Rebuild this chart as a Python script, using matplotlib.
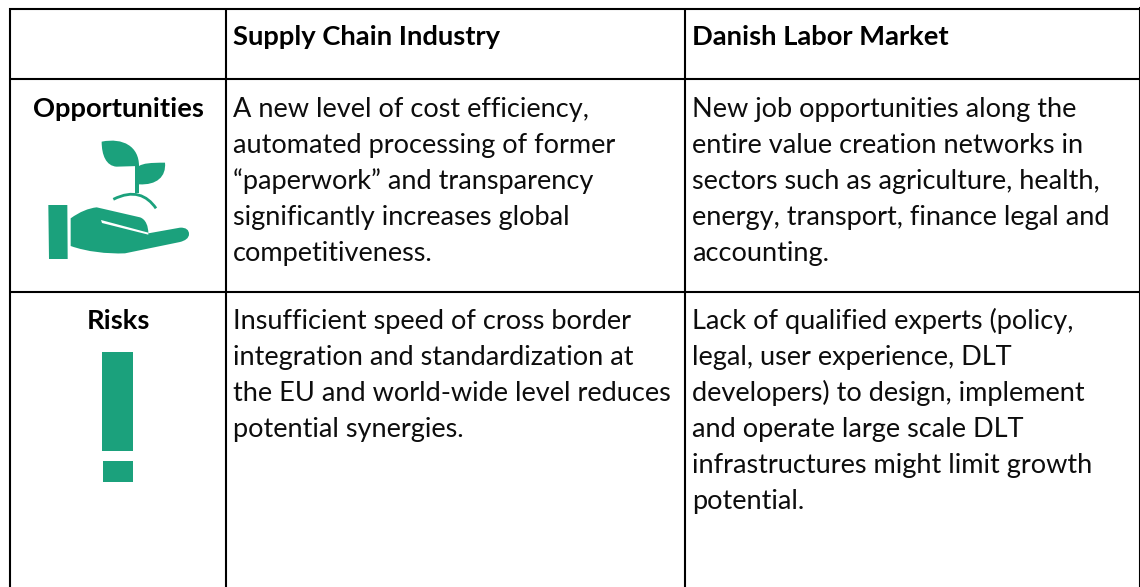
import matplotlib
matplotlib.use("Agg")
import matplotlib.pyplot as plt
from matplotlib.patches import Polygon, Rectangle, PathPatch
from matplotlib.path import Path

plt.rcParams['font.family'] = ['Lato', 'DejaVu Sans']

headers = ["Supply Chain Industry", "Danish Labor Market"]
row_labels = ["Opportunities", "Risks"]
opp_supply = ["A new level of cost efficiency,", "automated processing of former",
              "“paperwork” and transparency", "significantly increases global", "competitiveness."]
opp_labor = ["New job opportunities along the", "entire value creation networks in",
             "sectors such as agriculture, health,", "energy, transport, finance legal and", "accounting."]
risk_supply = ["Insufficient speed of cross border", "integration and standardization at",
               "the EU and world-wide level reduces", "potential synergies."]
risk_labor = ["Lack of qualified experts (policy,", "legal, user experience, DLT",
              "developers) to design, implement", "and operate large scale DLT",
              "infrastructures might limit growth", "potential."]

GREEN = "#1ba17c"
FS = 19.5
FS_B = 19.7
LH = 36.1

fig = plt.figure(figsize=(11.4, 5.87), dpi=100)
ax = fig.add_axes([0, 0, 1, 1])
ax.set_xlim(0, 1140)
ax.set_ylim(587, 0)
ax.axis("off")

# grid
for x in (9.5, 226, 685):
    ax.plot([x, x], [8, 587], color="black", lw=1.5, solid_capstyle="butt")
ax.plot([1139.5, 1139.5], [8, 587], color="black", lw=1.5)
for y in (8.5, 79, 291.5):
    ax.plot([9, 1140], [y, y], color="black", lw=1.5, solid_capstyle="butt")

# text
ax.text(233, 45, headers[0], fontsize=FS_B, fontweight="bold", va="baseline")
ax.text(692, 45, headers[1], fontsize=FS_B, fontweight="bold", va="baseline")
ax.text(118, 117, row_labels[0], fontsize=FS_B, fontweight="bold", va="baseline", ha="center")
ax.text(118, 329, row_labels[1], fontsize=FS_B, fontweight="bold", va="baseline", ha="center")

def block(x, y0, lines):
    for i, s in enumerate(lines):
        ax.text(x, y0 + i * LH, s, fontsize=FS, va="baseline", color="#0d0d0d")

block(233, 117, opp_supply)
block(692, 117, opp_labor)
block(233, 329, risk_supply)
block(692, 329, risk_labor)

# icon: zoom-crop coordinates of the hand and sprout
def z(pts):
    return [(px / 3, py / 3 + 80) for px, py in pts]

def curved(pts, codes, **kw):
    ax.add_patch(PathPatch(Path(z(pts), codes), **kw))

M, L, C = Path.MOVETO, Path.LINETO, Path.CURVE4

ax.add_patch(Polygon(z([(145, 375), (202, 375), (203, 537), (147, 537)]), fc=GREEN, ec="none"))
curved([(212, 415), (240, 395), (265, 385), (290, 382),
        (420, 412), (438, 418), (445, 440), (445, 460),
        (540, 443), (558, 442), (567, 450), (567, 462),
        (567, 475), (555, 482), (540, 486),
        (375, 520), (320, 522), (260, 515), (212, 498), (212, 415)],
       [M, C, C, C, L, C, C, C, L, C, C, C, C, C, C, L, C, C, C, L], fc=GREEN, ec="none")
ax.add_patch(Polygon(z([(303, 420), (306, 429), (445, 464), (445, 458)]), fc="white", ec="none"))
curved([(305, 185), (370, 172), (417, 200), (417, 258),
        (350, 260), (318, 258), (305, 225), (305, 185)],
       [M, C, C, C, L, C, C, C], fc=GREEN, ec="none")
curved([(417, 258), (430, 250), (450, 248), (495, 248),
        (499, 290), (470, 316), (417, 313), (417, 258)],
       [M, C, C, C, C, C, C, L], fc=GREEN, ec="none")
ax.add_patch(Polygon(z([(405, 255), (417, 255), (417, 340), (405, 340)]), fc=GREEN, ec="none"))
curved([(340, 358), (400, 328), (440, 345), (468, 385)], [M, C, C, C],
       fc="none", ec=GREEN, lw=2.0)

# exclamation mark
ax.add_patch(Rectangle((102, 352), 31, 99, fc=GREEN, ec="none"))
ax.add_patch(Rectangle((103, 461), 30, 21, fc=GREEN, ec="none"))

fig.savefig("out.png", dpi=100)
